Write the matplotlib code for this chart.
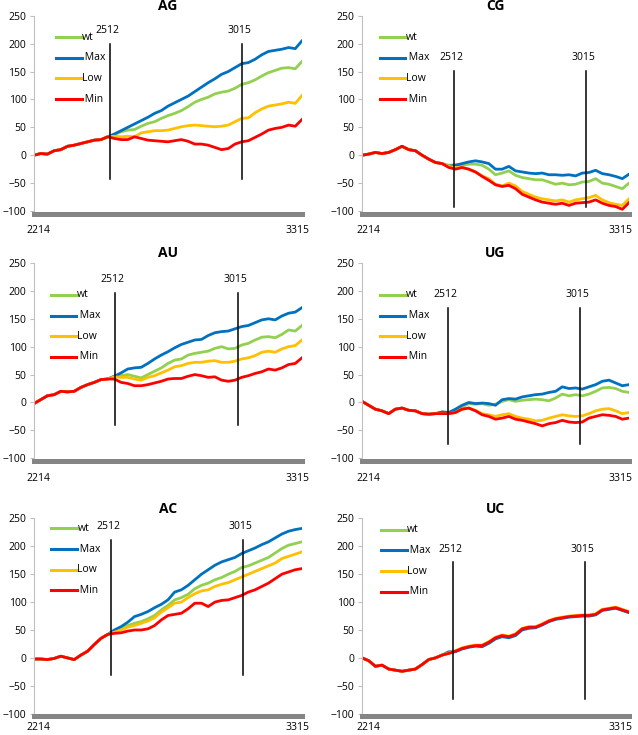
import numpy as np
import matplotlib
matplotlib.use('Agg')
import matplotlib.pyplot as plt

plt.rcParams['font.family'] = ['Open Sans', 'DejaVu Sans']

# 41 samples across each panel, axis only labelled at both ends
n_pts = 41
x = np.linspace(0, 100, n_pts)
x_ticklabels = ['2214', '3315']
marker_labels = ['2512', '3015']

series_labels = ['wt', ' Max', 'Low', ' Min']
series_colors = ['#92d050', '#0070c0', '#ffc000', '#ff0000']

# --- AG ---
ag_base = [0, 3, 2, 8, 10, 16, 18, 21, 24, 27, 28, 33]
ag_wt = [37, 42, 45, 46, 52, 57, 60, 66, 71, 75, 80, 87, 95, 100, 104, 110, 113, 115, 120, 127,
         130, 135, 142, 148, 152, 156, 157, 155, 168]
ag_max = [38, 44, 50, 56, 62, 68, 75, 80, 88, 94, 100, 106, 114, 122, 130, 137, 145, 150, 157, 164,
          166, 172, 180, 186, 188, 190, 193, 191, 205]
ag_low = [34, 33, 34, 33, 40, 42, 44, 44, 45, 48, 51, 53, 54, 53, 52, 51, 52, 54, 60, 66,
          67, 76, 83, 88, 90, 92, 95, 93, 107]
ag_min = [30, 28, 28, 33, 30, 27, 26, 25, 24, 26, 28, 25, 20, 20, 18, 14, 10, 12, 20, 24,
          26, 32, 38, 45, 48, 50, 54, 52, 64]

# --- CG ---
cg_base = [0, 2, 5, 3, 5, 10, 16, 10, 8, 0, -7, -13, -15]
cg_wt = [-18, -17, -18, -16, -16, -18, -25, -35, -32, -28, -36, -40, -42, -44, -44, -48, -52, -50, -53, -52,
         -48, -47, -42, -50, -52, -56, -60, -50]
cg_max = [-20, -18, -15, -12, -10, -12, -15, -25, -25, -20, -28, -30, -32, -33, -32, -35, -35, -36, -35, -37,
          -32, -31, -27, -33, -35, -38, -42, -34]
cg_low = [-20, -22, -22, -25, -30, -37, -42, -52, -55, -50, -55, -65, -70, -75, -78, -80, -82, -80, -84, -80,
          -78, -76, -72, -80, -85, -88, -90, -78]
cg_min = [-22, -25, -22, -25, -30, -38, -45, -53, -56, -54, -60, -70, -75, -80, -84, -86, -88, -86, -90, -86,
          -85, -84, -80, -86, -90, -92, -97, -85]

# --- AU ---
au_base = [-2, 5, 12, 14, 20, 19, 20, 27, 32, 36, 41, 42]
au_wt = [47, 48, 50, 47, 44, 50, 56, 62, 70, 76, 78, 85, 88, 90, 92, 97, 100, 96, 97, 103,
         106, 112, 117, 118, 116, 122, 130, 128, 138]
au_max = [47, 53, 60, 62, 63, 70, 78, 85, 91, 98, 104, 108, 112, 113, 120, 125, 127, 128, 132, 136,
          138, 143, 148, 150, 148, 155, 160, 162, 170]
au_low = [46, 45, 45, 42, 40, 45, 48, 53, 58, 64, 66, 70, 72, 72, 74, 75, 72, 72, 74, 78,
          80, 84, 90, 92, 90, 96, 100, 102, 112]
au_min = [42, 36, 34, 30, 30, 32, 35, 38, 42, 43, 43, 47, 50, 48, 45, 46, 40, 38, 40, 45,
          48, 52, 55, 60, 58, 62, 68, 70, 80]

# --- UG ---
ug_base = [2, -5, -12, -15, -20, -12, -10, -14, -15, -20, -21, -20]
ug_wt = [-17, -18, -14, -8, -2, -3, -2, -5, -3, 2, 5, 2, 4, 5, 6, 5, 3, 8, 15, 12,
         14, 12, 15, 20, 26, 27, 25, 20, 18]
ug_max = [-17, -18, -12, -5, 0, -2, -1, -2, -5, 5, 7, 6, 10, 12, 14, 15, 18, 20, 28, 25,
          26, 24, 28, 32, 38, 40, 35, 30, 32]
ug_low = [-20, -20, -18, -12, -10, -14, -20, -22, -25, -22, -20, -25, -28, -30, -33, -32, -28, -25, -22, -24,
          -25, -24, -20, -15, -12, -11, -15, -20, -18]
ug_min = [-20, -20, -18, -12, -10, -15, -22, -25, -30, -28, -25, -30, -32, -35, -38, -42, -38, -36, -32, -35,
          -36, -35, -28, -25, -22, -23, -25, -30, -28]

# --- AC ---
ac_base = [-2, -2, -3, -1, 3, 0, -3, 5, 12, 24, 35, 42]
ac_wt = [48, 53, 58, 62, 65, 70, 76, 86, 94, 104, 108, 114, 124, 130, 134, 140, 144, 150, 155, 162,
         165, 170, 175, 180, 188, 196, 202, 205, 208]
ac_max = [50, 56, 64, 74, 78, 83, 90, 96, 104, 118, 122, 130, 140, 150, 158, 166, 172, 176, 180, 187,
          192, 197, 203, 208, 215, 222, 227, 230, 232]
ac_low = [46, 50, 55, 58, 62, 66, 72, 82, 90, 98, 100, 108, 115, 120, 122, 128, 132, 135, 140, 145,
          150, 155, 160, 165, 170, 178, 182, 186, 190]
ac_min = [44, 45, 48, 50, 50, 52, 58, 68, 76, 78, 80, 88, 98, 98, 92, 100, 103, 104, 108, 112,
          118, 122, 128, 134, 142, 150, 154, 158, 160]

# --- UC ---
uc_base = [0, -5, -15, -13, -20, -22, -24, -22, -20, -12, -3, 0, 5]
uc_wt = [8, 12, 17, 20, 22, 22, 28, 36, 40, 38, 42, 52, 55, 55, 60, 66, 70, 72, 74, 75,
         76, 76, 78, 86, 88, 90, 86, 82]
uc_max = [11, 11, 16, 19, 21, 20, 26, 34, 38, 36, 40, 50, 53, 54, 59, 65, 69, 71, 73, 74,
          75, 75, 77, 85, 87, 89, 85, 81]
uc_low = [9, 13, 18, 21, 23, 23, 29, 37, 41, 39, 43, 53, 56, 56, 61, 67, 71, 73, 75, 76,
          77, 77, 79, 87, 89, 91, 87, 83]
uc_min = [8, 12, 17, 20, 22, 22, 28, 36, 40, 38, 42, 52, 55, 55, 60, 66, 70, 72, 74, 75,
          76, 76, 78, 86, 88, 90, 86, 82]

# position of the 2512 / 3015 markers and their vertical extent (y bottom, y top)
marker_x = {'AG': (28.4, 77.6), 'CG': (34.5, 83.8), 'AU': (30.2, 76.1),
            'UG': (32.3, 81.5), 'AC': (28.8, 78.0), 'UC': (34.1, 83.5)}
marker_y = {'AG': (-43, 200), 'CG': (-93, 151), 'AU': (-40, 196),
            'UG': (-74, 169), 'AC': (-30, 212), 'UC': (-73, 171)}

panels = [
    ('AG', ag_base, [ag_wt, ag_max, ag_low, ag_min]),
    ('CG', cg_base, [cg_wt, cg_max, cg_low, cg_min]),
    ('AU', au_base, [au_wt, au_max, au_low, au_min]),
    ('UG', ug_base, [ug_wt, ug_max, ug_low, ug_min]),
    ('AC', ac_base, [ac_wt, ac_max, ac_low, ac_min]),
    ('UC', uc_base, [uc_wt, uc_max, uc_low, uc_min]),
]

# layout (figure fractions) and legend anchors (axes fractions)
col_x = [(0.0533, 0.420), (0.5674, 0.4185)]
col_xticks = [(1.5, 98.5), (2.2, 97.0)]
row_y = [0.7129, 0.3765, 0.0290]
row_xpad = [8.5, 8.5, 4.0]
ax_h = 0.2657
legend_pos = {'AG': (0.082, 0.891), 'CG': (0.066, 0.891), 'AU': (0.062, 0.837),
              'UG': (0.066, 0.837), 'AC': (0.065, 0.949), 'UC': (0.071, 0.942)}
fs = 7.5

fig = plt.figure(figsize=(6.38, 7.35), dpi=100)

for k, (name, base, posts) in enumerate(panels):
    cx, cw = col_x[k % 2]
    ax = fig.add_axes([cx, row_y[k // 2], cw, ax_h])

    for post, col in zip(posts, series_colors):
        y = np.array(base + post, dtype=float)
        ax.plot(x, y, color=col, lw=2.0, solid_joinstyle='round')

    yb, yt = marker_y[name]
    for mx, ml in zip(marker_x[name], marker_labels):
        ax.plot([mx, mx], [yb, yt], color='black', lw=1.1)
        ax.text(mx - 1.0, yt + 24, ml, ha='center', va='center', fontsize=fs)

    # hand-placed legend
    lx, ly = legend_pos[name]
    for j, (lab, col) in enumerate(zip(series_labels, series_colors)):
        yy = ly - j * 0.106
        ax.plot([lx, lx + 0.096], [yy, yy], color=col, lw=2.2, transform=ax.transAxes)
        ax.text(lx + 0.097, yy, lab, transform=ax.transAxes, ha='left', va='center', fontsize=fs)

    ax.set_xlim(0, 100)
    ax.set_ylim(-100, 250)
    ax.set_yticks(np.arange(-100, 251, 50))
    ax.set_xticks(col_xticks[k % 2])
    ax.set_xticklabels(x_ticklabels)
    ax.tick_params(axis='y', length=3, width=0.8, color='#bfbfbf', pad=2.5, labelsize=fs)
    ax.tick_params(axis='x', length=0, pad=row_xpad[k // 2], labelsize=fs)

    ax.spines['top'].set_visible(False)
    ax.spines['right'].set_visible(False)
    ax.spines['left'].set_color('#bfbfbf')
    ax.spines['left'].set_linewidth(0.8)
    ax.spines['bottom'].set_color('#858585')
    ax.spines['bottom'].set_linewidth(3.6)
    ax.spines['bottom'].set_position(('outward', 1.8))

    ax.text(0.5, 1 + 9.5 / 195, name, transform=ax.transAxes, ha='center', va='center',
            fontsize=10, fontweight='bold')

fig.savefig('out.png', dpi=100)
